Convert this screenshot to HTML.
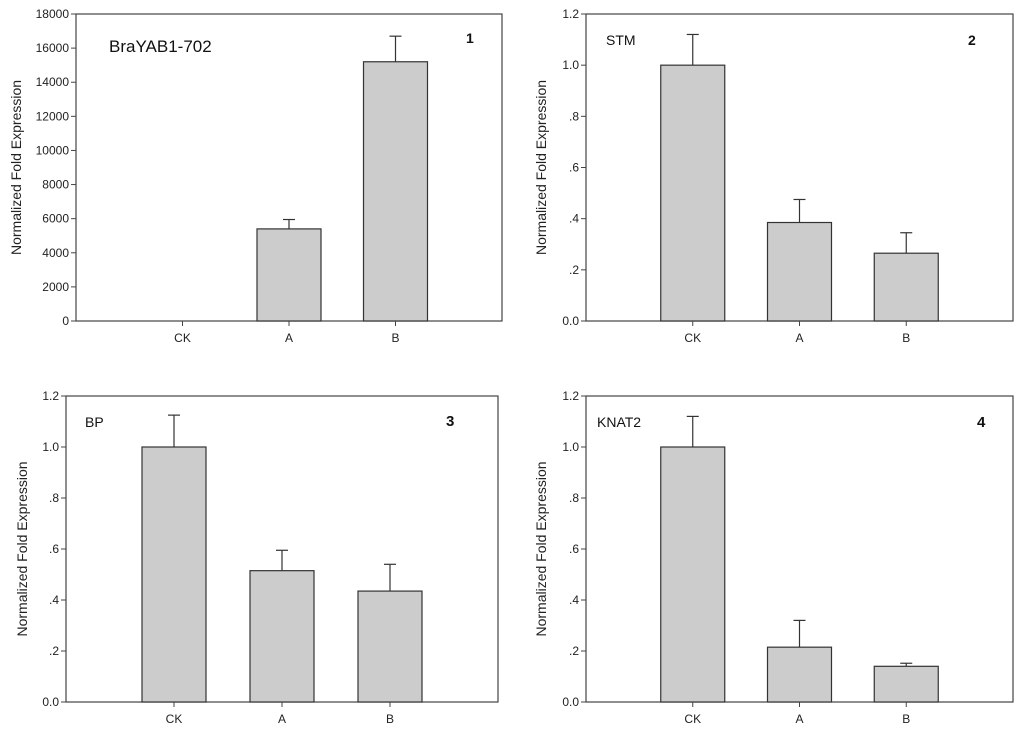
<!DOCTYPE html>
<html><head><meta charset="utf-8"><style>
body{margin:0;background:#fff;}
svg{display:block;font-family:"Liberation Sans",Arial,sans-serif;}
</style></head><body>
<svg id="s" width="1024" height="735"></svg>
<script>
const categories=["CK","A","B"];
const p1Values=[0,5400,15200];
const p1Errors=[0,550,1500];
const p1Ticks=[0,2000,4000,6000,8000,10000,12000,14000,16000,18000];
const p2Values=[1.0,0.385,0.265];
const p2Errors=[0.12,0.09,0.08];
const p3Values=[1.0,0.515,0.435];
const p3Errors=[0.125,0.08,0.105];
const p4Values=[1.0,0.215,0.14];
const p4Errors=[0.12,0.105,0.012];
const fracTicks=[0,0.2,0.4,0.6,0.8,1.0,1.2];
const fracLabels=["0.0",".2",".4",".6",".8","1.0","1.2"];
const p1Labels=p1Ticks.map(String);
const NS="http://www.w3.org/2000/svg";
const svg=document.getElementById('s');
function mk(tag,attrs,parent){const e=document.createElementNS(NS,tag);for(const k in attrs)e.setAttribute(k,attrs[k]);(parent||svg).appendChild(e);return e;}
function panel(o){
  const g=mk('g',{});
  
  
  const {L,R,T,B,max}=o;
  const y=v=>B-(v/max)*(B-T);
  const x=i=>L+(R-L)*(i+1)/4;
  const frame=mk('rect',{x:L,y:T,width:R-L,height:B-T,fill:'none',stroke:'#444','stroke-width':1.2},g);
  
  
  o.ticks.forEach((t,i)=>{
    const ln=mk('line',{x1:L-5,x2:L,y1:y(t),y2:y(t),stroke:'#444'},g);
    
    
    const tx=mk('text',{x:L-7,y:y(t)+4,'text-anchor':'end','font-size':12,fill:'#222'},g);
    tx.textContent=o.labels[i];
    
    
  });
  categories.forEach((c,i)=>{
    const cx=x(i),v=o.vals[i],e=o.errs[i],w=64;
    if(v>0){
      const ey=mk('line',{x1:cx,x2:cx,y1:y(v),y2:y(v+e),stroke:'#333','stroke-width':1.2},g);
      
      
      const ec=mk('line',{x1:cx-6,x2:cx+6,y1:y(v+e),y2:y(v+e),stroke:'#333','stroke-width':1.2},g);
      
      
      const r=mk('rect',{x:cx-w/2,y:y(v),width:w,height:B-y(v),fill:'#cccccc',stroke:'#333','stroke-width':1.2},g);
      
      
    }
    const tk=mk('line',{x1:cx,x2:cx,y1:B,y2:B+5,stroke:'#444'},g);
    
    
    const tl=mk('text',{x:cx,y:B+21,'text-anchor':'middle','font-size':12,fill:'#222'},g);
    tl.textContent=c;
    
    
  });
  const yt=mk('text',{x:0,y:0,'text-anchor':'middle','font-size':14,fill:'#222',transform:`translate(${o.ytx},${(T+B)/2}) rotate(-90)`},g);
  yt.textContent='Normalized Fold Expression';
  
  
  const gt=mk('text',{x:o.gx,y:o.gy,'font-size':o.gs,fill:'#111'},g);
  gt.textContent=o.gene;
  
  
  const nt=mk('text',{x:o.nx,y:o.ny,'font-size':o.ns,'font-weight':'bold',fill:'#111'},g);
  nt.textContent=o.num;
  
  
}
panel({name:'panel-1',L:76,R:502,T:14,B:321,max:18000,ticks:p1Ticks,labels:p1Labels,vals:p1Values,errs:p1Errors,ytx:21,gene:'BraYAB1-702',gx:109,gy:52,gs:17,num:'1',nx:466,ny:43,ns:14});
panel({name:'panel-2',L:586,R:1013,T:14,B:321,max:1.2,ticks:fracTicks,labels:fracLabels,vals:p2Values,errs:p2Errors,ytx:546,gene:'STM',gx:606,gy:45,gs:14,num:'2',nx:968,ny:45,ns:14});
panel({name:'panel-3',L:66,R:498,T:396,B:702,max:1.2,ticks:fracTicks,labels:fracLabels,vals:p3Values,errs:p3Errors,ytx:27,gene:'BP',gx:85,gy:427,gs:14,num:'3',nx:446,ny:426,ns:15});
panel({name:'panel-4',L:586,R:1013,T:396,B:702,max:1.2,ticks:fracTicks,labels:fracLabels,vals:p4Values,errs:p4Errors,ytx:546,gene:'KNAT2',gx:597,gy:427,gs:14,num:'4',nx:977,ny:427,ns:15});
</script>
</body></html>
